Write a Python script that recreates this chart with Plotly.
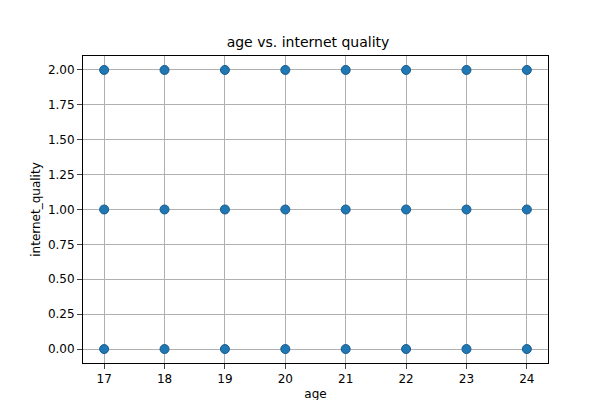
import plotly.graph_objects as go

# data: every age has records at each internet quality level
ages = [17, 18, 19, 20, 21, 22, 23, 24]
quality_levels = [0, 1, 2]

x_vals = []
y_vals = []
for a in ages:
    for q in quality_levels:
        x_vals.append(a)
        y_vals.append(q)

fig = go.Figure()
fig.add_trace(go.Scatter(
    x=x_vals, y=y_vals, mode="markers",
    marker=dict(color="#1f77b4", size=9, line=dict(color="#1a5a8a", width=1)),
))

fig.update_layout(
    width=600, height=400,
    margin=dict(l=75, r=60, t=48, b=45, autoexpand=False),
    paper_bgcolor="white", plot_bgcolor="white",
    font=dict(family="DejaVu Sans", size=12, color="black"),
    title=dict(text="age vs. internet quality", x=0.5, xanchor="center",
               y=0.915, yanchor="middle", font=dict(size=14)),
    showlegend=False,
)
fig.update_xaxes(
    title=dict(text="age", standoff=4, font=dict(size=12)), range=[16.65, 24.35],
    tickvals=ages, showgrid=True, gridcolor="#b0b0b0", automargin=False,
    showline=True, linecolor="black", mirror=True, ticks="outside", zeroline=False,
)
fig.update_yaxes(
    title=dict(text="internet_quality", standoff=4, font=dict(size=12)), range=[-0.1, 2.1],
    tickvals=[0, 0.25, 0.5, 0.75, 1.0, 1.25, 1.5, 1.75, 2.0], tickformat=".2f",
    showgrid=True, gridcolor="#b0b0b0", automargin=False,
    showline=True, linecolor="black", mirror=True, ticks="outside", zeroline=False,
)

fig.write_html("out.html")
